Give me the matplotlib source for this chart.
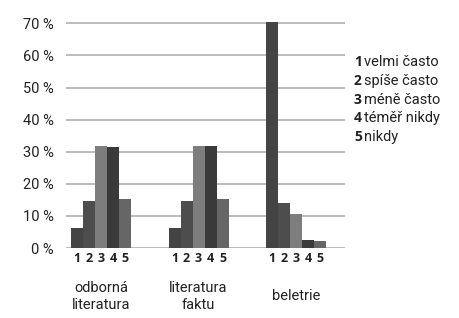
import numpy as np
import matplotlib.pyplot as plt

plt.rcParams['font.family'] = ['Roboto', 'DejaVu Sans']
BOLD = ['Open Sans', 'DejaVu Sans']

groups = ["odborná\nliteratura", "literatura\nfaktu", "beletrie"]
answers = ["1", "2", "3", "4", "5"]
legend_words = ["velmi často", "spíše často", "méně často", "téměř nikdy", "nikdy"]
values = [
    [6.1, 14.7, 31.9, 31.4, 15.3],
    [6.1, 14.7, 31.8, 31.8, 15.3],
    [70.3, 13.9, 10.6, 2.5, 2.3],
]
colors = ["#444444", "#4d4d4d", "#7d7d7d", "#3a3a3a", "#666666"]
yticks = [0, 10, 20, 30, 40, 50, 60, 70]

W, H = 459, 318
fig = plt.figure(figsize=(W / 100, H / 100), dpi=100)
ymax = 72
ax_h = ymax * 3.21
ax = fig.add_axes([66 / W, 1 - 248 / H, 279 / W, ax_h / H])
ax.set_xlim(0, 279 / 12)
ax.set_ylim(0, ymax)

for y in yticks:
    ax.axhline(y, color="#b0b0b0", lw=1.2, zorder=0)

start = 5 / 12
step = 97.5 / 12
for g, vals in enumerate(values):
    for i, v in enumerate(vals):
        x = start + g * step + i
        ax.bar(x, v, width=1, align="edge", color=colors[i], zorder=2)
        ax.text(x + 0.5, -3.3, answers[i], ha="center", va="center",
                fontsize=9, fontweight="bold", family=BOLD, color="#222222")
    ax.text(start + g * step + 2.5, -15.0, groups[g], ha="center", va="center",
            fontsize=10.5, color="#222222", linespacing=1.3)

ax.set_yticks(yticks)
ax.set_yticklabels(["%d %%" % y for y in yticks])
ax.tick_params(axis="y", length=0, pad=9, labelsize=10.5, labelcolor="#222222")
ax.set_xticks([])
for s in ax.spines.values():
    s.set_visible(False)

renderer = fig.canvas.get_renderer()
for i, word in enumerate(legend_words):
    yy = 1 - (62.3 + i * 18.6) / H
    t = fig.text(354 / W, yy, answers[i], fontsize=10, fontweight="bold",
                 family=BOLD, color="#222222", va="center", ha="left")
    bb = t.get_window_extent(renderer)
    fig.text((bb.x1 + 2) / W, yy, word, fontsize=10.5, color="#222222",
             va="center", ha="left")

fig.savefig("out.png", dpi=100)
